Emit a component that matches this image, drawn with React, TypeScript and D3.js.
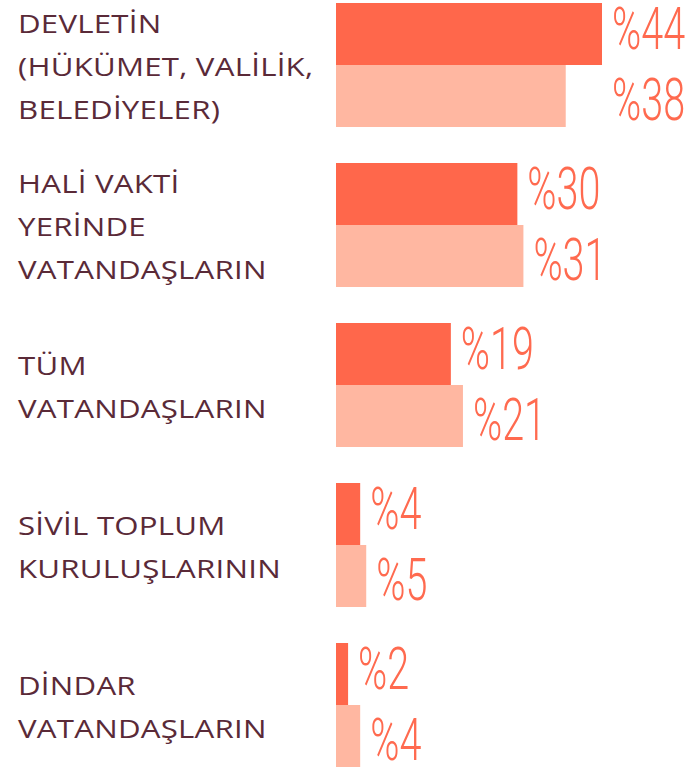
import { useEffect, useRef } from "react";
import * as d3 from "d3";

const categories = ["devlet", "haliVakti", "tum", "stk", "dindar"];
const labelLines = [
  ["DEVLETİN", "(HÜKÜMET, VALİLİK,", "BELEDİYELER)"],
  ["HALİ VAKTİ", "YERİNDE", "VATANDAŞLARIN"],
  ["TÜM", "VATANDAŞLARIN"],
  ["SİVİL TOPLUM", "KURULUŞLARININ"],
  ["DİNDAR", "VATANDAŞLARIN"],
];
const seriesA = [44, 30, 19, 4, 2];
const seriesB = [38, 31, 21, 5, 4];

const W = 690;
const H = 768;
const DARK = "#ff674b";
const LIGHT = "#ffb7a1";
const TEXT = "#5a2a38";
const VALUE = "#ff6a4f";

export default function App() {
  const svgRef = useRef<SVGSVGElement>(null);

  useEffect(() => {
    if (!svgRef.current) return;
    const svg = d3.select(svgRef.current);
    svg.selectAll("*").remove();

    const x = d3.scaleLinear().domain([0, 44]).range([336, 602]);
    const y = d3
      .scaleBand<string>()
      .domain(categories)
      .range([3, 767])
      .paddingInner(0.225)
      .paddingOuter(0);
    const sub = d3
      .scaleBand<string>()
      .domain(["a", "b"])
      .range([0, y.bandwidth()]);

    const rows = categories.map((c, i) => ({
      key: c,
      lines: labelLines[i],
      a: seriesA[i],
      b: seriesB[i],
    }));

    const g = svg
      .selectAll("g.row")
      .data(rows)
      .join("g")
      .attr("class", "row")
      .attr("transform", (d) => `translate(0,${y(d.key)})`);

    // bars
    g.append("rect")
      .attr("x", x(0))
      .attr("y", sub("a")!)
      .attr("width", (d) => x(d.a) - x(0))
      .attr("height", sub.bandwidth())
      .attr("fill", DARK);
    g.append("rect")
      .attr("x", x(0))
      .attr("y", sub("b")!)
      .attr("width", (d) => x(d.b) - x(0))
      .attr("height", sub.bandwidth())
      .attr("fill", LIGHT);

    // value labels (condensed look via horizontal scale)
    const valueText = (
      sel: d3.Selection<SVGGElement, any, any, any>,
      key: "a" | "b",
      dy: number
    ) =>
      sel
        .append("text")
        .attr("transform", (d) => {
          const end = key === "a" ? d.a : Math.max(d.a, d.b);
          return `translate(${x(end) + 10},${sub(key)! + dy}) scale(0.67,1)`;
        })
        .attr("font-family", "Roboto, sans-serif")
        .attr("font-weight", 300)
        .attr("font-size", 59)
        .attr("fill", VALUE)
        .text((d) => `%${d[key]}`);
    valueText(g, "a", 46);
    valueText(g, "b", 55);

    // category labels
    const mid = y.bandwidth() / 2;
    g.each(function (d) {
      const n = d.lines.length;
      d3.select(this)
        .selectAll("text.lbl")
        .data(d.lines)
        .join("text")
        .attr("class", "lbl")
        .attr(
          "transform",
          (_, j) =>
            `translate(18,${mid + (j - (n - 1) / 2) * 43 + 11}) scale(1.2,1)`
        )
        .attr("font-family", "'Open Sans', sans-serif")
        .attr("font-weight", 500)
        .attr("font-size", 26)
        .attr("letter-spacing", 0.2)
        .attr("fill", TEXT)
        .text((t) => t);
    });
  }, []);

  return (
    <div style={{ position: "absolute", left: 0, top: 0, background: "#fff" }}>
      <svg ref={svgRef} width={W} height={H} />
    </div>
  );
}
